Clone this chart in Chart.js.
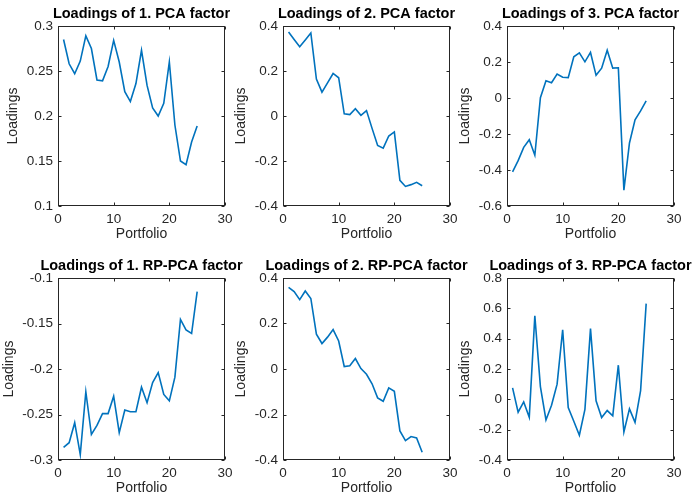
<!DOCTYPE html>
<html>
<head>
<meta charset="utf-8">
<script src="https://cdn.jsdelivr.net/npm/chart.js@4.4.1/dist/chart.umd.min.js"></script>
<style>
  body { margin: 0; background: #fff; width: 696px; height: 495px; overflow: hidden; position: relative; }
  canvas { position: absolute; }
</style>
</head>
<body>
<canvas id="c1" width="283" height="246" style="left:0px;top:0px"></canvas>
<canvas id="c2" width="283" height="246" style="left:225px;top:0px"></canvas>
<canvas id="c3" width="283" height="246" style="left:449px;top:0px"></canvas>
<canvas id="c4" width="283" height="248" style="left:0px;top:252px"></canvas>
<canvas id="c5" width="283" height="248" style="left:225px;top:252px"></canvas>
<canvas id="c6" width="283" height="248" style="left:449px;top:252px"></canvas>
<script>
let portfolios = [1, 2, 3, 4, 5, 6, 7, 8, 9, 10, 11, 12, 13, 14, 15, 16, 17, 18, 19, 20, 21, 22, 23, 24, 25];

let pca1 = [0.285, 0.258, 0.247, 0.261, 0.289, 0.275, 0.240, 0.239, 0.255, 0.284, 0.260, 0.227, 0.216, 0.236, 0.273, 0.234, 0.209, 0.200, 0.214, 0.260, 0.190, 0.150, 0.146, 0.171, 0.189];
let pca2 = [0.373, 0.340, 0.308, 0.338, 0.369, 0.164, 0.106, 0.147, 0.189, 0.170, 0.010, 0.006, 0.032, 0.003, 0.024, -0.055, -0.131, -0.143, -0.089, -0.071, -0.286, -0.313, -0.305, -0.295, -0.310];
let pca3 = [-0.410, -0.348, -0.274, -0.232, -0.318, 0.002, 0.096, 0.085, 0.133, 0.115, 0.113, 0.229, 0.251, 0.201, 0.253, 0.126, 0.166, 0.265, 0.166, 0.168, -0.512, -0.250, -0.121, -0.072, -0.016];
let rp1 = [-0.286, -0.281, -0.259, -0.294, -0.225, -0.272, -0.262, -0.249, -0.249, -0.230, -0.270, -0.245, -0.247, -0.247, -0.220, -0.237, -0.215, -0.204, -0.228, -0.235, -0.209, -0.1455, -0.157, -0.161, -0.115];
let rp2 = [0.359, 0.340, 0.305, 0.343, 0.310, 0.153, 0.112, 0.140, 0.173, 0.123, 0.011, 0.014, 0.046, 0.002, -0.023, -0.065, -0.127, -0.142, -0.083, -0.098, -0.272, -0.315, -0.297, -0.303, -0.366];
let rp3 = [0.076, -0.085, -0.017, -0.118, 0.551, 0.084, -0.136, -0.039, 0.100, 0.459, -0.054, -0.145, -0.237, -0.066, 0.466, -0.010, -0.120, -0.074, -0.109, 0.225, -0.215, -0.063, -0.152, 0.058, 0.631];

let xTicks = [0, 10, 20, 30];
let yTicksPca1 = [0.1, 0.15, 0.2, 0.25, 0.3];
let yTicksPca2 = [-0.4, -0.2, 0, 0.2, 0.4];
let yTicksPca3 = [-0.6, -0.4, -0.2, 0, 0.2, 0.4];
let yTicksRp1 = [-0.3, -0.25, -0.2, -0.15, -0.1];
let yTicksRp2 = [-0.4, -0.2, 0, 0.2, 0.4];
let yTicksRp3 = [-0.4, -0.2, 0, 0.2, 0.4, 0.6, 0.8];

let titles = [
  "Loadings of 1. PCA factor",
  "Loadings of 2. PCA factor",
  "Loadings of 3. PCA factor",
  "Loadings of 1. RP-PCA factor",
  "Loadings of 2. RP-PCA factor",
  "Loadings of 3. RP-PCA factor",
];

Chart.defaults.font.family = "'Liberation Sans', Arial, Helvetica, sans-serif";
let axisColor = "#262626";

// box round the plot with inward ticks, like matlab axes
let matlabBox = {
  id: "matlabBox",
  afterDraw(chart) {
    let { ctx, chartArea, scales } = chart;
    let l = Math.round(chartArea.left) + 0.5;
    let r = Math.round(chartArea.right) - 0.5;
    let t = Math.round(chartArea.top) + 0.5;
    let b = Math.round(chartArea.bottom) - 0.5;
    ctx.save();
    ctx.strokeStyle = axisColor;
    ctx.lineWidth = 1;
    ctx.strokeRect(l, t, r - l, b - t);
    ctx.beginPath();
    scales.x.ticks.forEach((tk) => {
      let px = Math.round(scales.x.getPixelForValue(tk.value)) + 0.5;
      ctx.moveTo(px, b); ctx.lineTo(px, b - 3);
      ctx.moveTo(px, t); ctx.lineTo(px, t + 3);
    });
    scales.y.ticks.forEach((tk) => {
      let py = Math.round(scales.y.getPixelForValue(tk.value)) + 0.5;
      ctx.moveTo(l, py); ctx.lineTo(l + 3, py);
      ctx.moveTo(r, py); ctx.lineTo(r - 3, py);
    });
    ctx.stroke();
    ctx.restore();
  },
};

renderPanel("#c1", titles[0], pca1, yTicksPca1, 4.3);
renderPanel("#c2", titles[1], pca2, yTicksPca2, 7.6);
renderPanel("#c3", titles[2], pca3, yTicksPca3, 7.6);
renderPanel("#c4", titles[3], rp1, yTicksRp1, 0.9);
renderPanel("#c5", titles[4], rp2, yTicksRp2, 7.6);
renderPanel("#c6", titles[5], rp3, yTicksRp3, 7.6);

function renderPanel(id, title, values, yTicks, labelPad) {
  let canvas = document.querySelector(id);
  new Chart(canvas, {
    type: "line",
    data: {
      datasets: [
        {
          data: portfolios.map((p, i) => ({ x: p, y: values[i] })),
          borderColor: "#0072BD",
          borderWidth: 1.6,
          pointRadius: 0,
          tension: 0,
          fill: false,
        },
      ],
    },
    options: {
      responsive: false,
      animation: false,
      events: [],
      layout: { padding: 0 },
      plugins: {
        legend: { display: false },
        tooltip: { enabled: false },
        title: {
          display: true,
          text: title,
          color: "#000",
          font: { size: 14.5, weight: "bold", lineHeight: 1 },
          padding: { top: 6.75, bottom: 4.75 },
        },
      },
      scales: {
        x: {
          type: "linear",
          min: xTicks[0],
          max: xTicks[xTicks.length - 1],
          afterBuildTicks: (s) => { s.ticks = xTicks.map((v) => ({ value: v })); },
          afterFit: (s) => { s.height = 40; },
          grid: { display: false, drawTicks: false },
          border: { display: false },
          ticks: { color: axisColor, font: { size: 13.5 }, padding: 5, maxRotation: 0, callback: (v) => String(v) },
          title: { display: true, text: "Portfolio", color: axisColor, font: { size: 14 }, padding: { top: 0, bottom: 3 } },
        },
        y: {
          type: "linear",
          min: yTicks[0],
          max: yTicks[yTicks.length - 1],
          afterBuildTicks: (s) => { s.ticks = yTicks.map((v) => ({ value: v })); },
          afterFit: (s) => { s.width = 58; },
          grid: { display: false, drawTicks: false },
          border: { display: false },
          ticks: { color: axisColor, font: { size: 13.5 }, padding: 5, autoSkip: false, callback: (v) => String(v) },
          title: { display: true, text: "Loadings", color: axisColor, font: { size: 14 }, padding: { top: labelPad, bottom: 0 } },
        },
        // empty right axis so the plot sits in the middle of the canvas
        yRight: {
          type: "linear",
          position: "right",
          afterFit: (s) => { s.width = 58; },
          grid: { display: false, drawTicks: false },
          border: { display: false },
          ticks: { display: false },
        },
      },
    },
    plugins: [matlabBox],
  });
}
</script>
</body>
</html>
